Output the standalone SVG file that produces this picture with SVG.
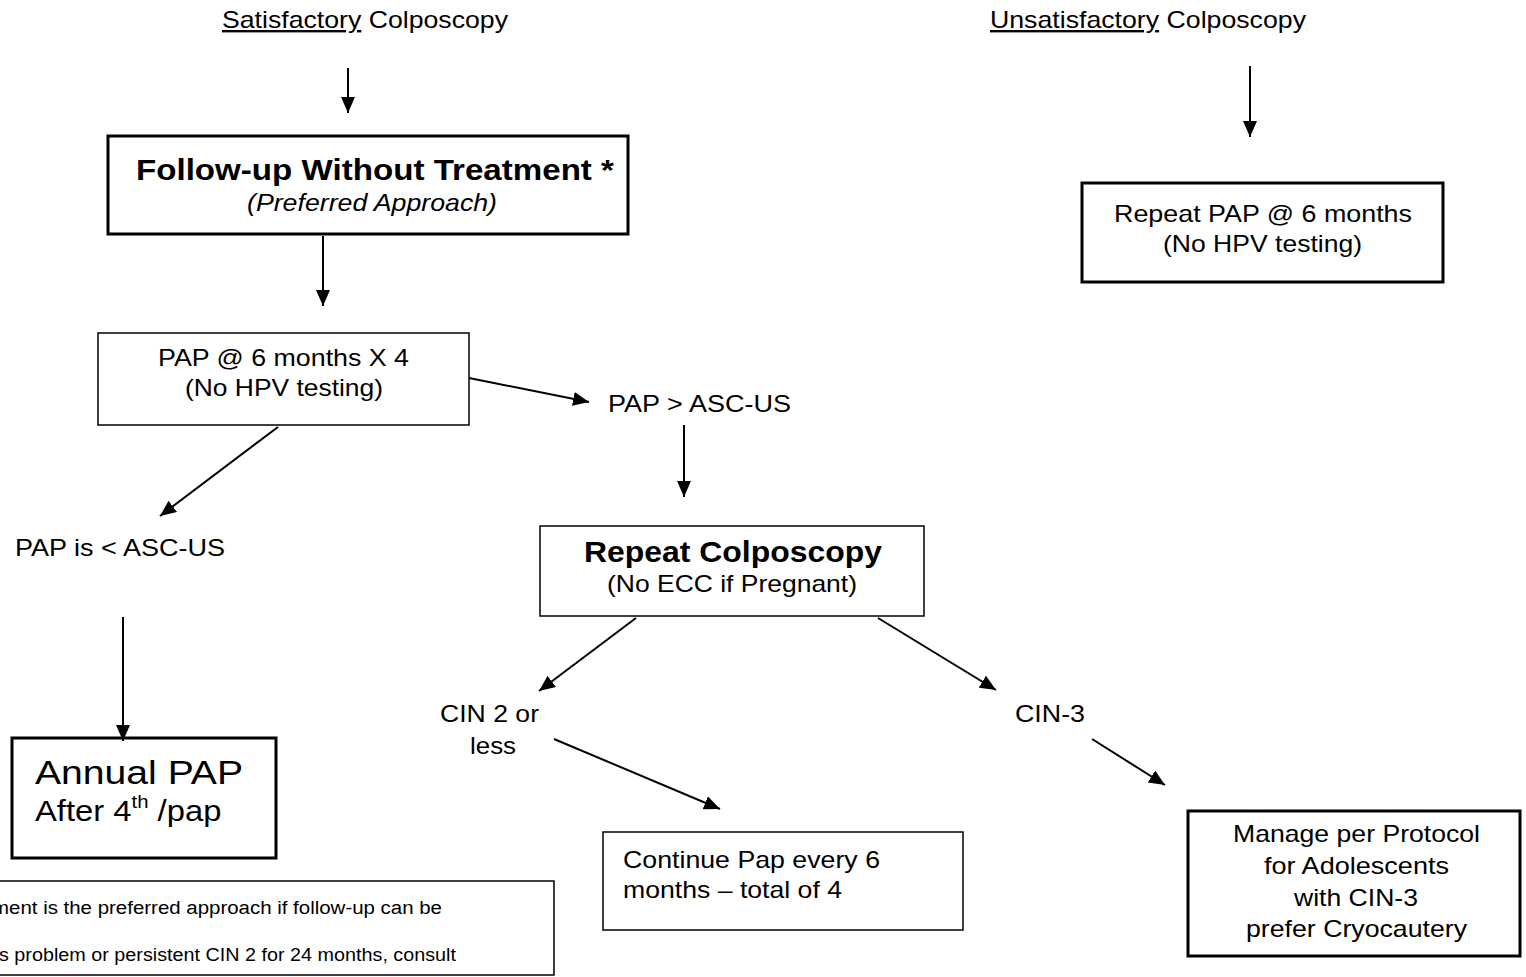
<svg xmlns="http://www.w3.org/2000/svg" width="1526" height="977" viewBox="0 0 1526 977">
  <defs>
    <marker id="arrow" viewBox="0 0 16 14" refX="16" refY="7" markerWidth="16" markerHeight="14" markerUnits="userSpaceOnUse" orient="auto">
      <path d="M0,0 L16,7 L0,14 z" fill="#000"/>
    </marker>
  </defs>
  <style>
    text { font-family: "Liberation Sans", Arial, sans-serif; fill: #000; }
    .lbl { font-size: 24px; }
    .box { fill: #fff; stroke: #000; }
    .thick { stroke-width: 3; }
    .thin { stroke-width: 1.5; }
    .conn line { stroke: #000; stroke-width: 2; marker-end: url(#arrow); }
  </style>
  <rect width="1526" height="977" fill="#fff"/>

  <g id="satisfactory">
    <text class="lbl" x="222" y="28" textLength="286" lengthAdjust="spacingAndGlyphs"><tspan text-decoration="underline">Satisfactory</tspan> Colposcopy</text>
  </g>
  <g id="unsatisfactory">
    <text class="lbl" x="990" y="28" textLength="316" lengthAdjust="spacingAndGlyphs"><tspan text-decoration="underline">Unsatisfactory</tspan> Colposcopy</text>
  </g>

  <g id="followup">
    <rect class="box thick" x="108" y="136" width="520" height="98"/>
    <text x="136" y="180" font-size="30" font-weight="bold" textLength="478" lengthAdjust="spacingAndGlyphs">Follow-up Without Treatment *</text>
    <text class="lbl" x="247" y="211" font-style="italic" textLength="250" lengthAdjust="spacingAndGlyphs">(Preferred Approach)</text>
  </g>

  <g id="pap6x4">
    <rect class="box thin" x="98" y="333" width="371" height="92"/>
    <text class="lbl" x="158" y="366" textLength="251" lengthAdjust="spacingAndGlyphs">PAP @ 6 months X 4</text>
    <text class="lbl" x="185" y="396" textLength="198" lengthAdjust="spacingAndGlyphs">(No HPV testing)</text>
  </g>

  <g id="pap-gt">
    <text class="lbl" x="608" y="412" textLength="183" lengthAdjust="spacingAndGlyphs">PAP &gt; ASC-US</text>
  </g>

  <g id="pap-lt">
    <text class="lbl" x="15" y="556" textLength="210" lengthAdjust="spacingAndGlyphs">PAP is &lt; ASC-US</text>
  </g>

  <g id="annual">
    <rect class="box thick" x="12" y="738" width="264" height="120"/>
    <text x="35" y="784" font-size="33" textLength="208" lengthAdjust="spacingAndGlyphs">Annual PAP</text>
    <text transform="translate(35,821) scale(1.13,1)" font-size="29">After 4<tspan font-size="18" dy="-13">th</tspan><tspan dy="13"> /pap</tspan></text>
  </g>

  <g id="repeat-colpo">
    <rect class="box thin" x="540" y="526" width="384" height="90"/>
    <text x="584" y="562" font-size="30" font-weight="bold" textLength="298" lengthAdjust="spacingAndGlyphs">Repeat Colposcopy</text>
    <text class="lbl" x="607" y="592" textLength="250" lengthAdjust="spacingAndGlyphs">(No ECC if Pregnant)</text>
  </g>

  <g id="cin2">
    <text class="lbl" x="440" y="722" textLength="99" lengthAdjust="spacingAndGlyphs">CIN 2 or</text>
    <text class="lbl" x="470" y="754" textLength="46" lengthAdjust="spacingAndGlyphs">less</text>
  </g>

  <g id="cin3">
    <text class="lbl" x="1015" y="722" textLength="70" lengthAdjust="spacingAndGlyphs">CIN-3</text>
  </g>

  <g id="continue">
    <rect class="box thin" x="603" y="832" width="360" height="98"/>
    <text class="lbl" x="623" y="868" textLength="257" lengthAdjust="spacingAndGlyphs">Continue Pap every 6</text>
    <text class="lbl" x="623" y="898" textLength="219" lengthAdjust="spacingAndGlyphs">months – total of 4</text>
  </g>

  <g id="manage">
    <rect class="box thick" x="1188" y="811" width="332" height="145"/>
    <text class="lbl" x="1233" y="842" textLength="247" lengthAdjust="spacingAndGlyphs">Manage per Protocol</text>
    <text class="lbl" x="1264" y="874" textLength="185" lengthAdjust="spacingAndGlyphs">for Adolescents</text>
    <text class="lbl" x="1294" y="906" textLength="124" lengthAdjust="spacingAndGlyphs">with CIN-3</text>
    <text class="lbl" x="1246" y="937" textLength="221" lengthAdjust="spacingAndGlyphs">prefer Cryocautery</text>
  </g>

  <g id="repeat-pap">
    <rect class="box thick" x="1082" y="183" width="361" height="99"/>
    <text class="lbl" x="1114" y="222" textLength="298" lengthAdjust="spacingAndGlyphs">Repeat PAP @ 6 months</text>
    <text class="lbl" x="1163" y="252" textLength="199" lengthAdjust="spacingAndGlyphs">(No HPV testing)</text>
  </g>

  <g id="footnote">
    <rect class="box thin" x="-5" y="881" width="559" height="94"/>
    <text x="-8" y="914" font-size="18" textLength="450" lengthAdjust="spacingAndGlyphs">ment is the preferred approach if follow-up can be</text>
    <text x="-1" y="961" font-size="18" textLength="457" lengthAdjust="spacingAndGlyphs">s problem or persistent CIN 2 for 24 months, consult</text>
  </g>

  <g id="connectors" class="conn">
    <line x1="348" y1="68" x2="348" y2="113"/>
    <line x1="1250" y1="66" x2="1250" y2="137"/>
    <line x1="323" y1="236" x2="323" y2="306"/>
    <line x1="469" y1="378" x2="589" y2="402"/>
    <line x1="684" y1="425" x2="684" y2="497"/>
    <line x1="278" y1="427" x2="160" y2="516"/>
    <line x1="123" y1="617" x2="123" y2="741"/>
    <line x1="636" y1="618" x2="539" y2="691"/>
    <line x1="878" y1="618" x2="996" y2="690"/>
    <line x1="554" y1="739" x2="720" y2="809"/>
    <line x1="1092" y1="739" x2="1165" y2="785"/>
  </g>
</svg>
